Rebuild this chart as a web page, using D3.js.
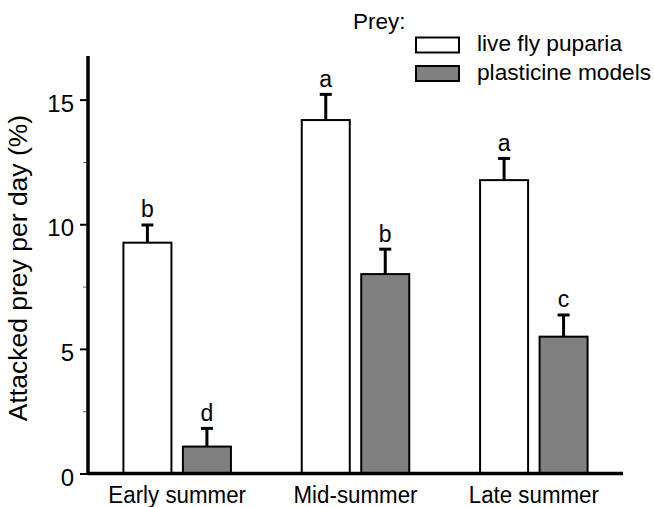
<!DOCTYPE html>
<html lang="en">
<head>
    <meta charset="utf-8">
    <title>Attacked prey per day</title>
    <script src="https://d3js.org/d3.v7.min.js"></script>
    <style>
        body {
            margin: 0;
            background: #fff;
            font-family: "Liberation Sans", Arial, sans-serif;
        }
        svg text {
            fill: #000;
        }
        .bar {
            stroke: #000;
            stroke-width: 2px;
        }
        .err {
            stroke: #000;
            stroke-width: 3px;
        }
    </style>
</head>
<body>
    <svg width="654" height="507"></svg>
    <script>
        const seasons = ['Early summer', 'Mid-summer', 'Late summer'];
        const series = ['live fly puparia', 'plasticine models'];
        const liveMeans = [9.26, 14.18, 11.77];
        const liveSE = [0.71, 1.03, 0.87];
        const liveLetters = ['b', 'a', 'a'];
        const plastMeans = [1.08, 8.0, 5.49];
        const plastSE = [0.73, 1.0, 0.87];
        const plastLetters = ['d', 'b', 'c'];
        const majorTicks = [0, 5, 10, 15];
        const minorTicks = [2.5, 7.5, 12.5];
        const colors = ['#ffffff', '#808080'];

        const rows = [];
        seasons.forEach((s, i) => {
            rows.push({season: s, series: series[0], mean: liveMeans[i], se: liveSE[i], letter: liveLetters[i]});
            rows.push({season: s, series: series[1], mean: plastMeans[i], se: plastSE[i], letter: plastLetters[i]});
        });

        const svg = d3.select('svg');

        const y = d3.scaleLinear().domain([0, 16.75]).range([473.5, 56]);
        const x0 = d3.scaleBand().domain(seasons).range([88, 623]);
        const x1 = d3.scaleBand().domain(series).range([-53.75, 53.75]).paddingInner(0.193);
        const color = d3.scaleOrdinal().domain(series).range(colors);

        const cx = d => x0(d.season) + x0.bandwidth() / 2 + x1(d.series);

        // bars
        svg.selectAll('.bar')
            .data(rows)
            .enter().append('rect')
            .attr('class', 'bar')
            .attr('x', cx)
            .attr('y', d => y(d.mean))
            .attr('width', x1.bandwidth())
            .attr('height', d => y(0) - y(d.mean))
            .attr('fill', d => color(d.series));

        // error bars (upper only)
        const err = svg.selectAll('.errg')
            .data(rows)
            .enter().append('g')
            .attr('class', 'errg');
        err.append('line')
            .attr('class', 'err')
            .attr('x1', d => cx(d) + x1.bandwidth() / 2)
            .attr('x2', d => cx(d) + x1.bandwidth() / 2)
            .attr('y1', d => y(d.mean))
            .attr('y2', d => y(d.mean + d.se));
        err.append('line')
            .attr('class', 'err')
            .attr('x1', d => cx(d) + x1.bandwidth() / 2 - 6)
            .attr('x2', d => cx(d) + x1.bandwidth() / 2 + 6)
            .attr('y1', d => y(d.mean + d.se))
            .attr('y2', d => y(d.mean + d.se));

        // significance letters
        svg.selectAll('.letter')
            .data(rows)
            .enter().append('text')
            .attr('class', 'letter')
            .attr('x', d => cx(d) + x1.bandwidth() / 2)
            .attr('y', d => y(d.mean + d.se) - 7.5)
            .attr('text-anchor', 'middle')
            .style('font-size', '23px')
            .text(d => d.letter);

        // y axis
        const yAxis = svg.append('g')
            .attr('transform', 'translate(88,0)')
            .call(d3.axisLeft(y).tickValues(majorTicks).tickSize(8).tickPadding(6).tickFormat(d3.format('d')));
        yAxis.select('.domain').remove();
        yAxis.selectAll('.tick line').attr('stroke', '#000').attr('stroke-width', 2);
        yAxis.selectAll('.tick text')
            .attr('dy', '0.48em')
            .style('font-size', '24px')
            .style('font-family', '"Liberation Sans", Arial, sans-serif');

        const yMinor = svg.append('g')
            .attr('transform', 'translate(88,0)')
            .call(d3.axisLeft(y).tickValues(minorTicks).tickSize(5).tickFormat(''));
        yMinor.select('.domain').remove();
        yMinor.selectAll('.tick line').attr('stroke', '#666').attr('stroke-width', 1);

        svg.append('line')
            .attr('x1', 88).attr('x2', 88)
            .attr('y1', y.range()[1]).attr('y2', y(0) + 1.5)
            .attr('stroke', '#000').attr('stroke-width', 3.5);

        // x axis baseline
        svg.append('line')
            .attr('x1', 88).attr('x2', x0.range()[1])
            .attr('y1', y(0)).attr('y2', y(0))
            .attr('stroke', '#000').attr('stroke-width', 3.5);

        svg.selectAll('.xlab')
            .data(seasons)
            .enter().append('text')
            .attr('class', 'xlab')
            .attr('transform', d => `translate(${x0(d) + x0.bandwidth() / 2},503) scale(0.93,1.03)`)
            .attr('text-anchor', 'middle')
            .style('font-size', '24px')
            .text(d => d);

        // y title
        svg.append('text')
            .attr('transform', 'translate(27,268) rotate(-90)')
            .attr('text-anchor', 'middle')
            .style('font-size', '26.5px')
            .text('Attacked prey per day (%)');

        // legend
        const legend = svg.append('g');
        legend.append('text')
            .attr('x', 353)
            .attr('y', 28.5)
            .style('font-size', '22.5px')
            .text('Prey:');
        const item = legend.selectAll('.item')
            .data(series)
            .enter().append('g')
            .attr('class', 'item')
            .attr('transform', (d, i) => `translate(416,${37.5 + i * 28.5})`);
        item.append('rect')
            .attr('width', 43)
            .attr('height', 15)
            .attr('fill', d => color(d))
            .attr('stroke', '#000')
            .attr('stroke-width', 2);
        item.append('text')
            .attr('x', 61)
            .attr('y', 13.5)
            .style('font-size', '22.7px')
            .text(d => d);
    </script>
</body>
</html>
